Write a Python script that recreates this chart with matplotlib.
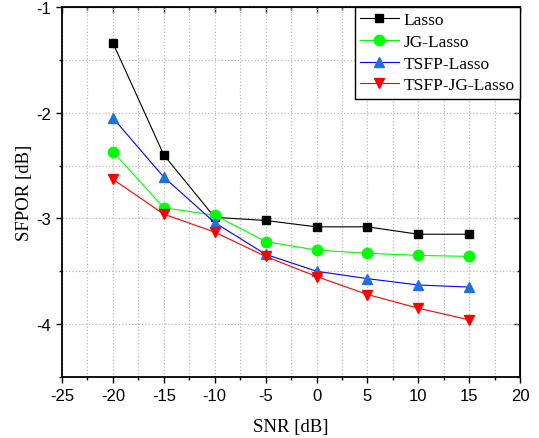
import numpy as np
import matplotlib.pyplot as plt
from matplotlib.ticker import MultipleLocator

# SNR points and SFPOR results for each method
snr = [-20, -15, -10, -5, 0, 5, 10, 15]
lasso = [-1.34, -2.40, -2.99, -3.02, -3.08, -3.08, -3.15, -3.15]
jg_lasso = [-2.37, -2.90, -2.97, -3.22, -3.30, -3.33, -3.35, -3.36]
tsfp_lasso = [-2.05, -2.61, -3.04, -3.34, -3.50, -3.57, -3.63, -3.65]
tsfp_jg_lasso = [-2.63, -2.96, -3.13, -3.36, -3.55, -3.72, -3.85, -3.96]


def main():
    plt.rcParams['axes.unicode_minus'] = False
    fig = plt.figure(figsize=(5.39, 4.39), dpi=100, facecolor='w')
    ax = fig.add_axes([0.115, 0.139, 0.85, 0.843])

    ax.plot(snr, lasso, '-s', color='black', lw=0.8, ms=6,
            mfc='black', mec='black', label='Lasso')
    ax.plot(snr, jg_lasso, '-o', color='#00ff00', lw=0.8, ms=7.5,
            mfc='#00ff00', mec='#00ff00', label='JG-Lasso')
    ax.plot(snr, tsfp_lasso, '-^', color='#0000ff', lw=0.8, ms=7.5,
            mfc='#2070e0', mec='#2070e0', label='TSFP-Lasso')
    ax.plot(snr, tsfp_jg_lasso, '-v', color='#ff0000', lw=0.8, ms=7.5,
            mfc='#ff0000', mec='#ff0000', label='TSFP-JG-Lasso')

    ax.set_xlim(-25, 20)
    ax.set_ylim(-4.5, -1)
    ax.xaxis.set_major_locator(MultipleLocator(5))
    ax.xaxis.set_minor_locator(MultipleLocator(2.5))
    ax.yaxis.set_major_locator(MultipleLocator(1))
    ax.yaxis.set_minor_locator(MultipleLocator(0.5))

    ax.grid(which='both', linestyle=':', lw=0.9, color='#b8b8b8')
    ax.set_axisbelow(True)

    for s in ax.spines.values():
        s.set_linewidth(1.3)

    # outward ticks on left/bottom, inward mirrored ticks on right/top
    ax.tick_params(which='major', direction='out', length=4, width=1,
                   labelsize=12, pad=4)
    ax.tick_params(which='minor', direction='out', length=2.5, width=1)
    sec_y = ax.secondary_yaxis('right')
    sec_y.yaxis.set_major_locator(MultipleLocator(1))
    sec_y.yaxis.set_minor_locator(MultipleLocator(0.5))
    sec_y.tick_params(which='major', direction='in', length=4, width=1,
                      labelright=False)
    sec_y.tick_params(which='minor', direction='in', length=2.5, width=1)
    sec_x = ax.secondary_xaxis('top')
    sec_x.xaxis.set_major_locator(MultipleLocator(5))
    sec_x.xaxis.set_minor_locator(MultipleLocator(2.5))
    sec_x.tick_params(which='major', direction='in', length=4, width=1,
                      labeltop=False)
    sec_x.tick_params(which='minor', direction='in', length=2.5, width=1)

    for lab in ax.get_xticklabels() + ax.get_yticklabels():
        lab.set_family('Liberation Sans')

    ax.set_xlabel('SNR [dB]', fontsize=13.5, family='Liberation Serif', labelpad=11)
    ax.set_ylabel('SFPOR [dB]', fontsize=13.5, family='Liberation Serif', labelpad=2)

    lg = ax.legend(loc='upper right', fancybox=False, framealpha=1,
                   edgecolor='black', borderaxespad=0, handlelength=2.2,
                   handletextpad=0.3, labelspacing=0.32, borderpad=0.3,
                   prop={'family': 'Liberation Serif', 'size': 12.5})
    lg.get_frame().set_linewidth(1.0)

    plt.savefig('out.png', dpi=100)


if __name__ == '__main__':
    main()
